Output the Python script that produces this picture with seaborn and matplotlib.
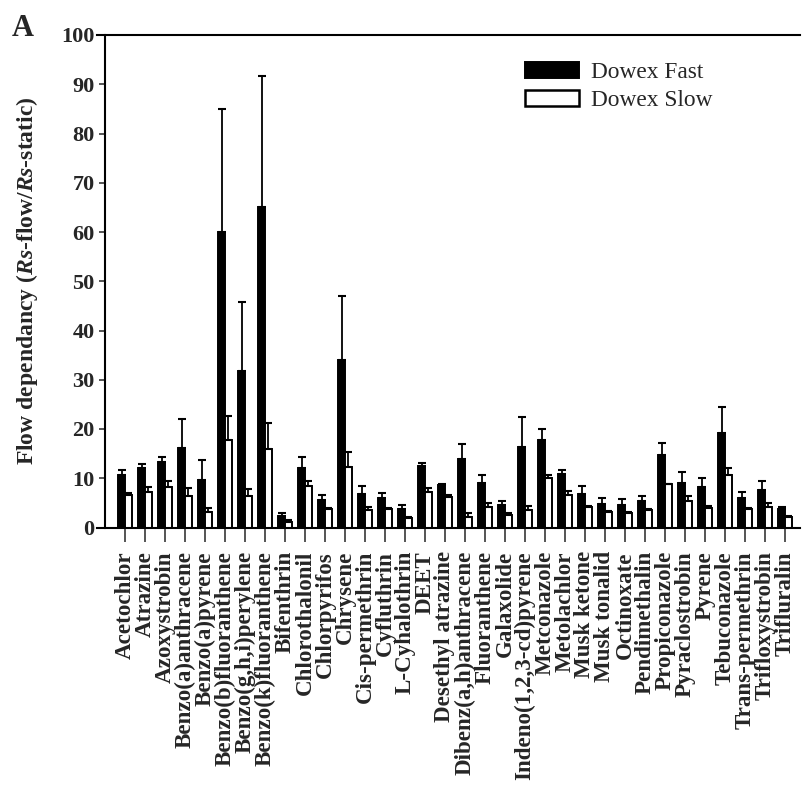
import matplotlib
matplotlib.use("Agg")
import matplotlib.pyplot as plt
from matplotlib.patches import Patch
import numpy as np
import pandas as pd
import seaborn as sns

compounds = [
    "Acetochlor", "Atrazine", "Azoxystrobin", "Benzo(a)anthracene", "Benzo(a)pyrene",
    "Benzo(b)fluoranthene", "Benzo(g,h,i)perylene", "Benzo(k)fluoranthene", "Bifenthrin",
    "Chlorothalonil", "Chlorpyrifos", "Chrysene", "Cis-permethrin", "Cyfluthrin",
    "L-Cyhalothrin", "DEET", "Desethyl atrazine", "Dibenz(a,h)anthracene", "Fluoranthene",
    "Galaxolide", "Indeno(1,2,3-cd)pyrene", "Metconazole", "Metolachlor", "Musk ketone",
    "Musk tonalid", "Octinoxate", "Pendimethalin", "Propiconazole", "Pyraclostrobin",
    "Pyrene", "Tebuconazole", "Trans-permethrin", "Trifloxystrobin", "Trifluralin",
]

fast_mean = [10.7, 12.0, 13.4, 16.1, 9.7, 60.0, 31.8, 65.0, 2.4, 12.0, 5.6, 34.1,
             6.9, 5.9, 3.7, 12.4, 8.7, 13.9, 9.0, 4.6, 16.3, 17.8, 10.8, 6.9,
             4.8, 4.6, 5.4, 14.8, 9.0, 8.3, 19.2, 6.0, 7.6, 3.7]
fast_err = [0.9, 0.9, 0.9, 5.9, 4.1, 25.0, 14.0, 26.6, 0.5, 2.4, 0.9, 13.0,
            1.5, 1.2, 0.9, 0.7, 0.2, 3.0, 1.7, 0.8, 6.1, 2.3, 0.9, 1.6,
            1.1, 1.1, 0.9, 2.4, 2.2, 1.7, 5.3, 1.2, 1.9, 0.4]

slow_mean = [6.5, 7.3, 8.2, 6.3, 3.1, 17.7, 6.3, 16.0, 1.2, 8.4, 3.7, 12.2,
             3.6, 3.7, 2.0, 7.3, 6.2, 2.1, 4.2, 2.5, 3.6, 10.0, 6.6, 4.2,
             3.1, 3.0, 3.6, 8.8, 5.3, 3.9, 10.7, 3.7, 4.2, 2.2]
slow_err = [0.5, 1.0, 1.3, 1.8, 0.8, 4.9, 1.5, 5.3, 0.3, 1.1, 0.2, 3.2,
            0.5, 0.3, 0.2, 0.7, 0.3, 0.8, 0.7, 0.5, 0.8, 0.7, 0.9, 0.2,
            0.2, 0.2, 0.2, 0.1, 1.0, 0.5, 1.4, 0.2, 0.8, 0.2]

series_names = ["Dowex Fast", "Dowex Slow"]
y_ticks = list(range(0, 101, 10))

df = pd.DataFrame({
    "compound": compounds * 2,
    "series": [series_names[0]] * len(compounds) + [series_names[1]] * len(compounds),
    "value": fast_mean + slow_mean,
})

sns.set_style("ticks")
plt.rcParams["font.family"] = ["Liberation Serif", "DejaVu Serif"]
plt.rcParams["mathtext.fontset"] = "custom"
plt.rcParams["mathtext.rm"] = "Liberation Serif:bold"
plt.rcParams["mathtext.it"] = "Liberation Serif:italic:bold"
plt.rcParams["mathtext.bf"] = "Liberation Serif:bold"

W, H = 803, 786
fig = plt.figure(figsize=(W / 100, H / 100), dpi=100)
ax = fig.add_axes([97 / W, 1 - 527.5 / H, (800 - 97) / W, (527.5 - 35) / H])

sns.barplot(data=df, x="compound", y="value", hue="series", order=compounds,
            hue_order=series_names, palette=["black", "white"], width=0.66,
            edgecolor="black", linewidth=1.4, errorbar=None, legend=False, ax=ax)

# upper-only error bars on each series
for cont, err in zip(ax.containers, [fast_err, slow_err]):
    xs = [b.get_x() + b.get_width() / 2 for b in cont]
    ys = [b.get_height() for b in cont]
    ax.errorbar(xs, ys, yerr=[np.zeros(len(err)), err], fmt="none",
                ecolor="black", elinewidth=1.3, capsize=3.2, capthick=1.5, zorder=1)

ax.set_xlim(-1.4, 33.75)
ax.set_ylim(0, 100)
ax.set_yticks(y_ticks)
ax.spines["left"].set_position(("data", -1.0))
ax.spines["right"].set_visible(False)
for s in ["left", "bottom", "top"]:
    ax.spines[s].set_linewidth(1.5)
    ax.spines[s].set_color("black")

ax.tick_params(axis="y", direction="out", length=4.5, width=1.1, labelsize=16, pad=3)
ax.tick_params(axis="x", direction="out", length=10, width=1.1, labelsize=16.6, pad=7)
ax.set_xticks(range(len(compounds)))
ax.set_xticklabels(compounds, rotation=90, fontweight="bold")
for t in ax.get_yticklabels():
    t.set_fontweight("bold")
ax.set_xlabel("")
ax.set_ylabel("")

fig.text(27 / W, 1 - 281 / H, "Flow dependancy ($Rs$-flow/$Rs$-static)",
         rotation=90, ha="center", va="center", fontsize=17, fontweight="bold")
fig.text(12 / W, 1 - 36 / H, "A", fontsize=22, fontweight="bold", va="baseline")

handles = [Patch(facecolor="black", edgecolor="black", linewidth=1.4),
           Patch(facecolor="white", edgecolor="black", linewidth=1.8)]
fig.legend(handles, series_names, loc="upper left",
           bbox_to_anchor=(525 / W, 1 - 62 / H), bbox_transform=fig.transFigure,
           frameon=False, fontsize=16.8, handlelength=2.3, handleheight=0.66,
           handletextpad=0.55, labelspacing=0.3, borderpad=0, borderaxespad=0)

fig.savefig("out.png", dpi=100)
